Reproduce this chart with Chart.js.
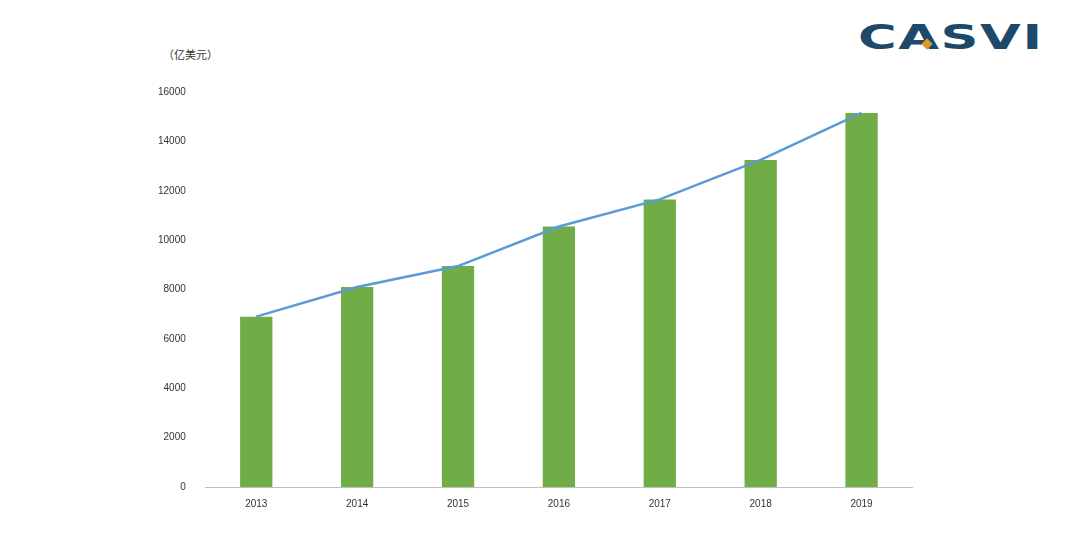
<!DOCTYPE html>
<html><head><meta charset="utf-8">
<script src="https://cdn.jsdelivr.net/npm/chart.js@4"></script>
<style>
body{margin:0;background:#fff;width:1080px;height:540px;overflow:hidden;font-family:"DejaVu Sans",sans-serif}
#wrap{position:absolute;left:146px;top:74px;width:774px;height:439px}
#unit{position:absolute;left:163px;top:46px;font-size:11px;font-family:"Noto Sans CJK SC";color:#333}
#logo{position:absolute;left:858px;top:17px;font:bold 34px "DejaVu Sans";color:#1d4a6b;letter-spacing:1px;transform:scaleX(1.55);transform-origin:left}
#dia{position:absolute;left:923px;top:40px;width:8px;height:8px;background:#d99a2b;transform:rotate(45deg)}
</style></head><body>
<div id="unit">（亿美元）</div>
<div id="logo">CASVI</div><div id="dia"></div>
<div id="wrap"><canvas id="c"></canvas></div>
<script>
const categories=["2013","2014","2015","2016","2017","2018","2019"];
const barValues=[6900,8100,8950,10550,11650,13250,15150];
const lineValues=[6900,8100,8950,10550,11650,13250,15150];
new Chart(document.getElementById('c'),{
 data:{labels:categories,datasets:[
  {type:'line',data:lineValues,borderColor:'#5b9bd5',borderWidth:2.5,pointRadius:0,tension:0,order:0},
  {type:'bar',data:barValues,backgroundColor:'#70ad47',barPercentage:0.32,categoryPercentage:1,order:1}
 ]},
 options:{responsive:true,maintainAspectRatio:false,animation:false,
  layout:{padding:{top:0,right:8}},
  plugins:{legend:{display:false},tooltip:{enabled:false}},
  scales:{
   x:{grid:{display:false,drawTicks:true},border:{color:'#bfbfbf'},ticks:{color:'#333',font:{size:10}}},
   y:{min:0,max:16000,ticks:{stepSize:2000,color:'#333',font:{size:10},padding:12,callback:v=>String(v)},grid:{display:false},border:{display:false}}
  }}
});
</script></body></html>
